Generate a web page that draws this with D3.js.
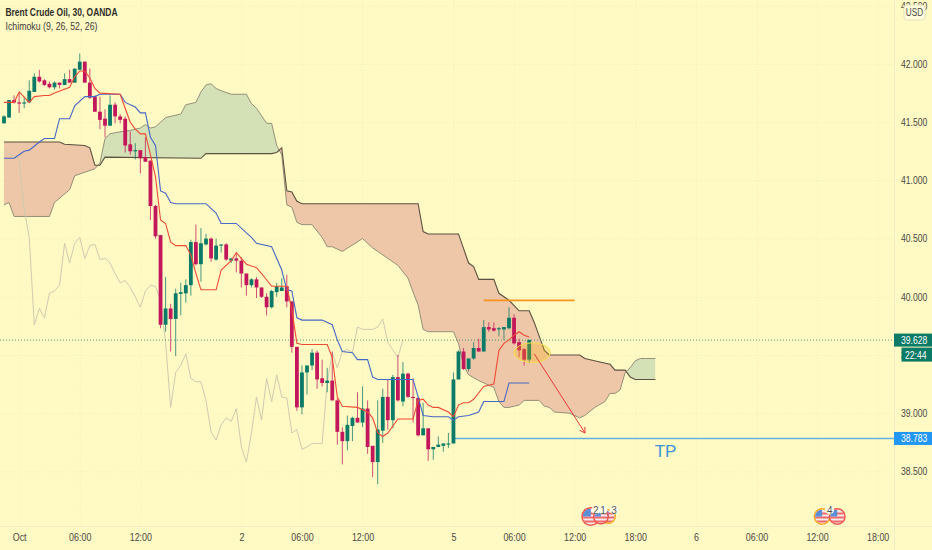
<!DOCTYPE html>
<html><head><meta charset="utf-8">
<script src="https://cdn.jsdelivr.net/npm/d3@7"></script>
<style>
html,body{margin:0;padding:0;background:#fff9c4;overflow:hidden}
svg{display:block}
text{font-family:"Liberation Sans",Arial,sans-serif}
</style></head><body><svg id="c" width="932" height="550"></svg>
<script>
// [open, high, low, close] per 30-minute bar
const candles=[
[41.49,41.56,41.49,41.55],[41.54,41.69,41.54,41.69],[41.69,41.73,41.66,41.67],[41.67,41.75,41.58,41.66],[41.66,41.72,41.62,41.67],
[41.67,41.86,41.67,41.77],[41.76,41.92,41.76,41.89],[41.89,41.95,41.84,41.85],[41.86,41.87,41.81,41.82],[41.83,41.85,41.79,41.80],
[41.80,41.85,41.78,41.84],[41.84,41.84,41.79,41.82],[41.82,41.92,41.82,41.87],[41.87,41.95,41.84,41.84],[41.84,41.96,41.84,41.96],
[41.95,42.09,41.95,42.02],[42.02,42.02,41.84,41.84],[41.84,41.96,41.70,41.71],[41.72,41.73,41.59,41.59],[41.59,41.72,41.44,41.52],
[41.53,41.61,41.37,41.47],[41.47,41.73,41.47,41.65],[41.65,41.67,41.49,41.55],[41.55,41.57,41.49,41.52],[41.53,41.55,41.24,41.30],
[41.31,41.42,41.22,41.25],[41.25,41.32,41.18,41.26],[41.26,41.26,41.06,41.19],[41.20,41.37,41.16,41.16],[41.17,41.17,40.66,40.78],
[40.78,40.79,40.50,40.52],[40.53,40.53,39.73,39.76],[39.76,40.17,39.70,39.90],[39.90,39.94,39.53,39.81],[39.81,40.07,39.49,40.03],
[40.025,40.12,39.84,40.04],[40.03,40.15,39.95,40.10],[40.10,40.49,40.01,40.47],[40.47,40.62,40.27,40.28],[40.28,40.59,40.13,40.46],
[40.45,40.54,40.44,40.50],[40.50,40.51,40.30,40.33],[40.32,40.50,40.31,40.44],[40.44,40.45,40.38,40.45],[40.45,40.46,40.31,40.32],
[40.31,40.33,40.29,40.33],[40.33,40.38,40.21,40.31],[40.31,40.34,40.08,40.20],[40.20,40.20,40.01,40.10],[40.10,40.16,40.08,40.15],
[40.15,40.17,39.99,40.08],[40.08,40.08,39.99,40.00],[40.00,40.03,39.84,39.91],[39.91,40.06,39.90,40.05],[40.04,40.12,40.00,40.09],
[40.05,40.16,40.05,40.08],[40.09,40.19,39.91,39.96],[39.96,39.96,39.52,39.57],[39.57,39.57,39.02,39.05],[39.05,39.41,38.99,39.35],
[39.35,39.41,39.16,39.41],[39.41,39.55,39.37,39.52],[39.52,39.54,39.21,39.29],[39.30,39.46,39.23,39.26],[39.26,39.39,39.18,39.28],
[39.28,39.53,39.11,39.11],[39.11,39.13,38.73,38.84],[38.84,38.88,38.56,38.76],[38.76,38.98,38.68,38.90],[38.89,38.97,38.76,38.96],
[38.96,39.18,38.92,38.92],[38.92,39.23,38.88,39.04],[39.04,39.11,38.65,38.71],[38.72,38.72,38.45,38.58],[38.58,39.11,38.39,38.86],
[38.85,39.21,38.745,39.14],[39.14,39.29,38.86,38.94],[38.94,39.33,38.87,39.31],[39.31,39.50,39.10,39.11],[39.10,39.44,39.06,39.34],
[39.34,39.35,39.13,39.14],[39.14,39.30,38.92,39.13],[39.13,39.14,38.80,38.81],[38.81,39.09,38.81,38.87],[38.87,38.87,38.59,38.69],
[38.69,38.71,38.60,38.71],[38.71,38.80,38.71,38.73],[38.72,38.74,38.67,38.74],[38.73,38.83,38.70,38.74],[38.74,39.35,38.74,39.29],
[39.29,39.54,39.29,39.53],[39.53,39.56,39.37,39.38],[39.38,39.47,39.36,39.47],[39.47,39.61,39.46,39.56],[39.56,39.64,39.53,39.53],
[39.53,39.80,39.53,39.74],[39.74,39.78,39.70,39.72],[39.73,39.78,39.70,39.71],[39.72,39.74,39.66,39.73],[39.72,39.74,39.63,39.74],
[39.73,39.91,39.72,39.82],[39.82,39.85,39.59,39.60],[39.61,39.64,39.48,39.54],[39.55,39.56,39.41,39.46],[39.46,39.63,39.43,39.63]];

// Ichimoku lines: [bar, price] at each visible vertex
const tenkan=[[0,41.67],[2,41.67],[3,41.76],[5,41.67],[6,41.72],[8,41.73],[9,41.73],[10,41.75],[13,41.80],[14,41.89],[15,41.94],[16,41.94],[17,41.88],[18,41.79],[19,41.75],[23,41.74],[24,41.62],[25,41.50],[26,41.44],[27,41.40],[28,41.40],[29,41.22],[30,41.03],[31,40.66],[32,40.63],[33,40.47],[34,40.44],[36,40.44],[37,40.36],[38,40.20],[39,40.06],[42,40.06],[43,40.23],[45,40.31],[46,40.38],[47,40.33],[48,40.28],[50,40.25],[51,40.20],[53,40.09],[56,40.09],[57,39.89],[58,39.60],[59,39.59],[64,39.59],[65,39.48],[66,39.14],[67,39.06],[70,39.05],[72,39.01],[73,38.96],[74,38.83],[75,38.80],[76,38.83],[78,38.95],[81,38.95],[82,39.11],[83,39.12],[84,39.07],[85,39.05],[86,39.05],[88,39.01],[89,38.97],[90,39.07],[91,39.09],[92,39.09],[93,39.12],[95,39.23],[97,39.25],[98,39.54],[99,39.60],[100,39.63],[101,39.67],[102,39.70],[103,39.67],[104,39.655]];
const kijun=[[0,41.19],[2,41.19],[3,41.22],[4,41.25],[5,41.26],[7,41.33],[8,41.36],[10,41.36],[11,41.53],[13,41.53],[14,41.64],[16,41.72],[18,41.72],[19,41.74],[23,41.74],[24,41.67],[26,41.63],[27,41.58],[28,41.58],[29,41.37],[30,41.30],[31,40.91],[32,40.89],[33,40.81],[34,40.80],[40,40.80],[42,40.72],[43,40.63],[46,40.63],[48,40.55],[49,40.51],[50,40.46],[53,40.43],[55,40.23],[56,40.06],[57,40.05],[58,39.82],[59,39.80],[63,39.80],[65,39.76],[66,39.63],[67,39.53],[69,39.52],[70,39.46],[72,39.46],[73,39.31],[74,39.29],[81,39.29],[82,39.14],[83,38.98],[85,38.97],[88,38.97],[89,38.94],[90,38.97],[92,38.98],[94,39.01],[95,39.10],[99,39.10],[100,39.26],[104,39.26]];
const chikou=[41.27,41.23,41.21,41.18,40.75,40.51,39.76,39.90,39.82,40.03,40.05,40.10,40.46,40.29,40.46,40.51,40.33,40.44,40.45,40.32,40.33,40.29,40.20,40.12,40.14,40.08,40.00,39.91,40.05,40.10,40.09,39.97,39.61,39.05,39.35,39.41,39.51,39.30,39.27,39.27,39.11,38.84,38.77,38.90,38.96,38.93,39.04,38.71,38.58,38.83,39.14,38.94,39.30,39.10,39.33,39.14,39.13,38.83,38.86,38.69,38.71,38.74,38.74,38.74,39.26,39.52,39.39,39.53,39.55,39.52,39.74,39.72,39.72,39.72,39.74,39.81,39.61,39.54,39.48,39.63];
const spanB=[[0,41.33],[11,41.33],[12,41.31],[16,41.30],[17,41.28],[18,41.13],[19,41.13],[20,41.20],[39,41.19],[40,41.23],[53,41.23],[54,41.24],[55,41.28],[56,40.91],[57,40.90],[58,40.82],[59,40.80],[82,40.80],[83,40.56],[84,40.54],[90,40.54],[92,40.29],[93,40.26],[94,40.15],[97,40.15],[98,40.03],[100,39.97],[102,39.88],[104,39.88],[105,39.78],[106,39.66],[107,39.54],[108,39.50],[114,39.50],[115,39.47],[118,39.44],[120,39.42],[121,39.37],[123,39.37],[124,39.31],[125,39.29],[129,39.29]];
const spanA=[[0,40.79],[1,40.81],[2,40.69],[9,40.69],[10,40.81],[13,40.92],[14,41.04],[16,41.07],[18,41.10],[19,41.15],[20,41.36],[21,41.40],[22,41.41],[25,41.43],[27,41.45],[28,41.48],[29,41.45],[30,41.46],[31,41.50],[32,41.54],[35,41.57],[36,41.65],[38,41.67],[39,41.76],[40,41.82],[41,41.83],[42,41.79],[43,41.77],[45,41.74],[48,41.74],[49,41.66],[50,41.62],[52,41.49],[53,41.49],[54,41.30],[55,41.22],[56,40.79],[57,40.77],[58,40.64],[59,40.62],[61,40.62],[63,40.51],[64,40.43],[65,40.43],[67,40.39],[71,40.50],[73,40.42],[74,40.39],[78,40.27],[80,40.16],[81,40.04],[82,39.93],[83,39.72],[84,39.70],[89,39.70],[90,39.60],[91,39.41],[92,39.33],[94,39.28],[96,39.24],[97,39.22],[98,39.10],[99,39.05],[100,39.05],[102,39.07],[103,39.11],[106,39.11],[107,39.06],[108,39.05],[109,39.01],[112,39.00],[114,38.96],[115,38.98],[117,39.05],[119,39.10],[120,39.17],[121,39.17],[122,39.20],[123,39.35],[124,39.39],[125,39.45],[126,39.47],[127,39.47],[129,39.47]];

const priceTicks=[38.5,39,39.5,40,40.5,41,41.5,42,42.5];
const timeTickBars=[3,15,27,47,59,71,89,101,113,125,137,149,161,173];
const timeTickLabels=["Oct","06:00","12:00","2","06:00","12:00","5","06:00","12:00","18:00","6","06:00","12:00","18:00"];
const lastPrice=39.628, countdown="22:44", tpPrice=38.783;
const orangeLevel=[95,113,39.97];
const redArrow=[105,39.51,115.05,38.83];
const ellipseMark=[104.6,39.52,3.6,0.085];
const eventBars=[119.7,116.2,118.2,162,165];
const eventKinds=["orange","red","red","orange","red"];
const eventSizes=[7.5,9.5,8,8.5,8.5];
const badgeBars=[117.2,118.6,120.8,163.5];
const badgeTexts=["2","1","3","4"];

const W=932,H=550,axisX=894,axisY=526.5;
const svg=d3.select("#c");
const x=d3.scaleLinear().domain([0,173]).range([4,877.65]);
const y=d3.scaleLinear().domain([42,38.5]).range([64,471.4]);
const BG="#fff9c4",GRID="#f6eeb6",UP="#0b7a66",DOWN="#c2185b",TXT="#4a4a45";
// squeezes a label horizontally; the reference's font is narrower than the installed ones
const squeeze=(sel,k)=>sel.each(function(){this.setAttribute("textLength",this.getComputedTextLength()*k);this.setAttribute("lengthAdjust","spacingAndGlyphs");});

const defs=svg.append("defs");
defs.append("clipPath").attr("id","plot").append("rect").attr("width",axisX).attr("height",axisY);

svg.append("rect").attr("width",W).attr("height",H).attr("fill",BG);

// grid (drawn from the same axes)
const gy=svg.append("g").call(d3.axisLeft(y).tickValues(priceTicks).tickSize(-axisX).tickFormat(""));
gy.select(".domain").remove();
gy.selectAll("line").attr("stroke",GRID).attr("stroke-dasharray","1 2");
const gx=svg.append("g").attr("transform",`translate(0,${axisY})`).call(d3.axisBottom(x).tickValues(timeTickBars).tickSize(-axisY).tickFormat(""));
gx.select(".domain").remove();
gx.selectAll("line").attr("stroke",GRID).attr("stroke-dasharray","1 2");

const plot=svg.append("g").attr("clip-path","url(#plot)");
const px=d=>x(d[0]),py=d=>y(d[1]);
const line=d3.line().x(px).y(py);

// cloud
const cloudPath=line(spanA.concat(spanB.slice().reverse()));
defs.append("clipPath").attr("id","above").append("path")
  .attr("d",d3.area().x(px).y0(0).y1(py)(spanB));
defs.append("clipPath").attr("id","below").append("path")
  .attr("d",d3.area().x(px).y0(axisY).y1(py)(spanB));
plot.append("g").attr("clip-path","url(#above)").append("path").attr("d",cloudPath).attr("fill","#d4e0b6");
plot.append("g").attr("clip-path","url(#below)").append("path").attr("d",cloudPath).attr("fill","#eec6a8");
plot.append("path").attr("d",line(spanA)).attr("fill","none").attr("stroke","#94917a").attr("stroke-width",1);
plot.append("path").attr("d",line(spanB)).attr("fill","none").attr("stroke","#5c5140").attr("stroke-width",1.1);

// chikou
plot.append("path").attr("d",d3.line().x((d,i)=>x(i)).y(d=>y(d))(chikou))
  .attr("fill","none").attr("stroke","#cfcbb0").attr("stroke-width",1);

// last-price dotted line
plot.append("line").attr("x1",0).attr("x2",axisX).attr("y1",y(lastPrice)).attr("y2",y(lastPrice))
  .attr("stroke","#4f9a6e").attr("stroke-dasharray","1 2").attr("stroke-width",1);

// TP line
plot.append("line").attr("x1",x(89)).attr("x2",axisX).attr("y1",y(tpPrice)).attr("y2",y(tpPrice))
  .attr("stroke","#62b2e2").attr("stroke-width",1.5);

// candles
const cg=plot.selectAll("g.k").data(candles).join("g").attr("class","k")
  .attr("fill",d=>d[3]>=d[0]?UP:DOWN).attr("stroke",d=>d[3]>=d[0]?UP:DOWN);
cg.append("line").attr("x1",(d,i)=>x(i)).attr("x2",(d,i)=>x(i)).attr("y1",d=>y(d[1])).attr("y2",d=>y(d[2]))
  .attr("stroke-width",1).attr("stroke-opacity",.75);
cg.append("rect").attr("x",(d,i)=>x(i)-1.9).attr("width",3.8)
  .attr("y",d=>y(Math.max(d[0],d[3]))).attr("height",d=>Math.max(1,Math.abs(y(d[0])-y(d[3]))))
  .attr("stroke","none");

// tenkan & kijun
plot.append("path").attr("d",line(kijun)).attr("fill","none").attr("stroke","#4569c4").attr("stroke-width",1.1);
plot.append("path").attr("d",line(tenkan)).attr("fill","none").attr("stroke","#ee4b35").attr("stroke-width",1.1);

// drawings
plot.append("line").attr("x1",x(orangeLevel[0])).attr("x2",x(orangeLevel[1])).attr("y1",y(orangeLevel[2])).attr("y2",y(orangeLevel[2]))
  .attr("stroke","#f7941d").attr("stroke-width",1.8);
plot.append("ellipse").attr("cx",x(ellipseMark[0])).attr("cy",y(ellipseMark[1]))
  .attr("rx",x(ellipseMark[2])-x(0)).attr("ry",y(0)-y(ellipseMark[3]))
  .attr("fill","#ffb300").attr("fill-opacity",.25).attr("stroke","#f5e04a").attr("stroke-width",1);
const ax1=x(redArrow[0]),ay1=y(redArrow[1]),ax2=x(redArrow[2]),ay2=y(redArrow[3]);
const ang=Math.atan2(ay2-ay1,ax2-ax1),hl=6;
plot.append("line").attr("x1",ax1).attr("y1",ay1).attr("x2",ax2).attr("y2",ay2).attr("stroke","#e53935").attr("stroke-width",1);
plot.append("path").attr("fill","none").attr("stroke","#e53935").attr("stroke-width",1)
  .attr("d",d3.line()([[ax2+hl*Math.cos(ang+2.6),ay2+hl*Math.sin(ang+2.6)],[ax2,ay2],[ax2+hl*Math.cos(ang-2.6),ay2+hl*Math.sin(ang-2.6)]]));
plot.append("text").attr("x",x(131)).attr("y",y(tpPrice)+19).attr("text-anchor","middle")
  .attr("font-size",17).attr("fill","#3b94d6").text("TP");

// event flags
const evY=516.5,ringCols={orange:"#ffa726",red:"#ef5350"};
eventBars.forEach((b,k)=>{
  const r=eventSizes[k];
  const g=svg.append("g").attr("transform",`translate(${x(b)},${evY})`);
  const id="ev"+k;
  defs.append("clipPath").attr("id",id).append("circle").attr("r",r-1.4);
  const f=g.append("g").attr("clip-path",`url(#${id})`);
  f.append("rect").attr("x",-10).attr("y",-10).attr("width",20).attr("height",20).attr("fill","#fbeaea");
  [-4,0,4].forEach(o=>f.append("rect").attr("x",-10).attr("y",o).attr("width",20).attr("height",2).attr("fill","#ef6a6a"));
  f.append("rect").attr("x",-10).attr("y",-10).attr("width",10).attr("height",10).attr("fill","#5b8fd8");
  g.append("circle").attr("r",r-.7).attr("fill","none").attr("stroke",ringCols[eventKinds[k]]).attr("stroke-width",1.4);
});
badgeBars.forEach((b,k)=>{
  const g=svg.append("g").attr("transform",`translate(${x(b)},${evY-6.5})`);
  g.append("circle").attr("r",4.4).attr("fill","#fffde8");
  g.append("text").attr("y",3.5).attr("text-anchor","middle").attr("font-size",10).attr("fill","#555").text(badgeTexts[k]);
});

// axes
const ax=svg.append("g").attr("transform",`translate(${axisX},0)`)
  .call(d3.axisRight(y).tickValues(priceTicks).tickSize(0).tickPadding(7).tickFormat(d3.format(".3f")));
ax.select(".domain").remove();
ax.selectAll("text").attr("fill",TXT).attr("font-size",10.5).attr("font-family",null).call(squeeze,.82);
const bx=svg.append("g").attr("transform",`translate(0,${axisY})`)
  .call(d3.axisBottom(x).tickValues(timeTickBars).tickSize(0).tickPadding(7).tickFormat((d,i)=>timeTickLabels[i]));
bx.select(".domain").remove();
bx.selectAll("text").attr("fill",TXT).attr("font-size",10.5).attr("font-family",null).call(squeeze,.85);
svg.append("line").attr("x1",axisX+.5).attr("x2",axisX+.5).attr("y1",0).attr("y2",H).attr("stroke","#f3ecca");
svg.append("line").attr("x1",0).attr("x2",W).attr("y1",axisY).attr("y2",axisY).attr("stroke","#f3ecca");

// USD box
svg.append("rect").attr("x",904).attr("y",5).attr("width",21).attr("height",15).attr("rx",3)
  .attr("fill","#fffcdc").attr("stroke","#e6e0bd");
svg.append("text").attr("x",914.5).attr("y",16).attr("text-anchor","middle").attr("font-size",10).attr("fill",TXT).text("USD").call(squeeze,.82);

// price labels
const tag=(x0,tx,cy,h,col,t)=>{
  svg.append("rect").attr("x",x0).attr("y",cy-h/2).attr("width",W-x0).attr("height",h).attr("fill",col);
  svg.append("text").attr("x",tx).attr("y",cy+4).attr("font-size",10.5).attr("fill","#fff").text(t).call(squeeze,.82);
};
tag(axisX,901,y(lastPrice),13,"#0b7a66",d3.format(".3f")(lastPrice));
tag(901.5,905,y(lastPrice)+14.5,14,"#0b7a66",countdown);
tag(axisX,901,y(tpPrice),13,"#2196f3",d3.format(".3f")(tpPrice));

// title
const t1=svg.append("text").attr("x",5.5).attr("y",16).attr("font-size",11.5).attr("font-weight",700).attr("fill","#2f2f2a").text("Brent Crude Oil, 30, OANDA");
t1.call(s=>s.each(function(){this.setAttribute("textLength",112);this.setAttribute("lengthAdjust","spacingAndGlyphs");}));
const t2=svg.append("text").attr("x",5.5).attr("y",30).attr("font-size",11).attr("fill","#3d3d38").text("Ichimoku (9, 26, 52, 26)");
t2.call(s=>s.each(function(){this.setAttribute("textLength",92);this.setAttribute("lengthAdjust","spacingAndGlyphs");}));
</script></body></html>
